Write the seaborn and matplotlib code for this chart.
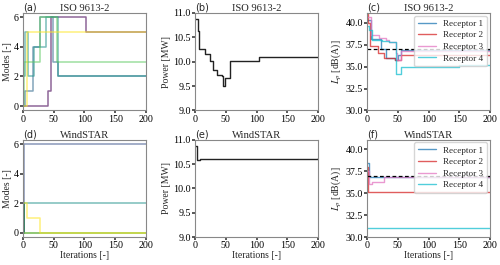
import matplotlib
matplotlib.use("Agg")
import matplotlib.pyplot as plt
import seaborn as sns

# ---- data (step breakpoints) ----
iso_modes = [
    ("#440154", [0, 41, 45, 103, 200], [0, 1, 6, 5, 5]),
    ("#31688e", [0, 3, 17, 28, 49, 57, 200], [0, 1, 4, 6, 3, 2, 2]),
    ("#21918c", [0, 3, 8, 18, 37, 57, 200], [2, 5, 2, 4, 6, 2, 2]),
    ("#5ec962", [0, 1, 27, 55, 200], [0, 3, 6, 3, 3]),
    ("#fde725", [0, 7, 200], [0, 5, 5]),
]
wind_modes = [
    ("#3b528b", [0, 2, 200], [0, 6, 6]),
    ("#21918c", [0, 1, 200], [0, 2, 2]),
    ("#1f6e3a", [0, 1, 2, 200], [0, 2, 0, 0]),
    ("#8fd744", [0, 200], [0, 0]),
    ("#fde725", [0, 6, 28, 200], [2, 1, 0, 0]),
]

iso_power_x = [0, 4, 6.5, 17, 25, 30, 36, 44, 46, 48, 57, 104, 200]
iso_power_y = [10.87, 10.63, 10.27, 10.16, 10.02, 9.84, 9.73, 9.70, 9.50, 9.66, 10.02, 10.09, 10.09]
wind_power_x = [0, 3, 8, 28, 200]
wind_power_y = [10.88, 10.58, 10.60, 10.61, 10.62]

receptors = ["Receptor 1", "Receptor 2", "Receptor 3", "Receptor 4"]
receptor_colors = ["#1f77b4", "#d62728", "#e377c2", "#17becf"]
iso_lp = [
    ([0, 6, 22, 30, 45, 50, 55, 200], [40.3, 38.1, 37.0, 36.0, 35.8, 36.3, 36.9, 36.9]),
    ([0, 2, 5, 17, 27, 45, 55, 200], [41.0, 40.0, 37.3, 36.5, 36.0, 35.7, 36.3, 36.3]),
    ([0, 6, 20, 30, 36, 47, 48, 55, 200], [40.6, 38.6, 38.3, 38.0, 37.8, 36.5, 35.8, 36.8, 36.8]),
    ([0, 3, 8, 25, 35, 47, 55, 100, 150, 200], [39.6, 39.2, 38.0, 37.9, 37.8, 34.2, 34.9, 35.0, 35.2, 35.2]),
]
wind_lp = [
    ([0, 3, 200], [38.5, 36.9, 36.9]),
    ([0, 2, 200], [38.0, 35.2, 35.2]),
    ([0, 3, 8, 28, 200], [37.5, 36.0, 36.3, 36.8, 36.8]),
    ([0, 200], [31.0, 31.0]),
]
lp_limit = 37.0

# ---- style ----
sns.set_theme(style="white")
plt.rcParams["font.family"] = ["Liberation Serif", "DejaVu Serif"]
plt.rcParams["mathtext.fontset"] = "stix"
plt.rcParams["axes.edgecolor"] = "#888888"
plt.rcParams["axes.linewidth"] = 0.8
plt.rcParams["xtick.color"] = "#444444"
plt.rcParams["ytick.color"] = "#444444"
plt.rcParams["xtick.labelcolor"] = "black"
plt.rcParams["ytick.labelcolor"] = "black"
plt.rcParams["xtick.bottom"] = True
plt.rcParams["ytick.left"] = True
plt.rcParams["xtick.major.size"] = 2.0
plt.rcParams["ytick.major.size"] = 2.0

TICK = 7.2
LAB = 7.0
TITLE = 7.6

fig, axes = plt.subplots(2, 3, figsize=(5.0, 2.65), dpi=100)
fig.subplots_adjust(left=0.046, right=0.98, top=0.951, bottom=0.105,
                    wspace=0.4, hspace=0.30)


def steps(ax, x, y, color, alpha=1.0, lw=1.0, label=None):
    sns.lineplot(x=x, y=y, ax=ax, color=color, alpha=alpha, lw=lw,
                 drawstyle="steps-post", estimator=None, sort=False,
                 label=label, legend=False)


def finish(ax, letter, title, ylabel, bottom_row):
    ax.set_xlim(0, 200)
    ax.set_xticks([0, 50, 100, 150, 200])
    ax.tick_params(labelsize=TICK, pad=1.0)
    ax.set_title(title, fontsize=TITLE, pad=1.5)
    ax.set_title(letter, loc="left", fontsize=7.0, pad=1.5, family="DejaVu Sans")
    ax.set_ylabel(ylabel, fontsize=LAB, labelpad=1.5)
    if bottom_row:
        ax.set_xlabel("Iterations [-]", fontsize=LAB, labelpad=0.5)


for row, (modes, px, py, lps, name) in enumerate([
        (iso_modes, iso_power_x, iso_power_y, iso_lp, "ISO 9613-2"),
        (wind_modes, wind_power_x, wind_power_y, wind_lp, "WindSTAR")]):
    ax = axes[row, 0]
    for color, x, y in modes:
        steps(ax, x, y, color, alpha=0.6, lw=1.1)
    ax.set_yticks([0, 2, 4, 6])
    finish(ax, "(%s)" % "ad"[row], name, "Modes [-]", row == 1)

    ax = axes[row, 1]
    steps(ax, px, py, "#222222", lw=1.0)
    ax.set_ylim(9.0, 11.0)
    ax.set_yticks([9.0, 9.5, 10.0, 10.5, 11.0])
    finish(ax, "(%s)" % "be"[row], name, "Power [MW]", row == 1)

    ax = axes[row, 2]
    for (x, y), color, lab in zip(lps, receptor_colors, receptors):
        steps(ax, x, y, color, alpha=0.75, lw=1.0, label=lab)
    ax.axhline(lp_limit, color="black", ls="--", lw=0.9, dashes=(3, 2))
    ax.set_ylim(30.0, 41.1)
    ax.set_yticks([30.0, 32.5, 35.0, 37.5, 40.0])
    finish(ax, "(%s)" % "cf"[row], name, "$L_p$ [dB(A)]", row == 1)
    ax.legend(loc="upper right", fontsize=6.6, frameon=True, handlelength=2.0,
              labelspacing=0.35, borderpad=0.4, handletextpad=0.8,
              borderaxespad=0.3)

fig.savefig("out.png", dpi=100)
